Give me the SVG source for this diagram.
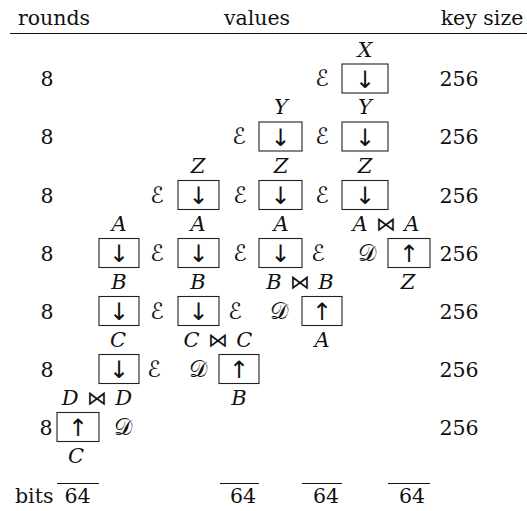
<svg xmlns="http://www.w3.org/2000/svg" width="527" height="511" viewBox="0 0 527 511">
<style>
text{font-family:'DejaVu Serif','Liberation Serif',serif;font-size:20.5px;fill:#111;}
.m{text-anchor:middle;}
.it{font-style:italic;font-size:21px;}
.cal{font-family:'DejaVu Sans',sans-serif;font-style:normal;font-size:22.5px;}
.arr{font-family:'DejaVu Sans',sans-serif;font-size:24px;text-anchor:middle;fill:#111;}
.bt{font-family:'DejaVu Sans',sans-serif;font-style:normal;font-size:20px;}
.box{fill:none;stroke:#222;stroke-width:1.1;}
.rule{stroke:#111;stroke-width:1.1;}
</style>
<g id="header">
<text class="m" x="54" y="25">rounds</text>
<text class="m" x="257" y="25">values</text>
<text class="m" x="482" y="25">key size</text>
<line class="rule" x1="10" y1="33.5" x2="527" y2="33.5"/>
</g>
<g id="rounds">
<text class="m" x="47" y="86">8</text>
<text class="m" x="47" y="144">8</text>
<text class="m" x="47" y="203">8</text>
<text class="m" x="47" y="261">8</text>
<text class="m" x="47" y="319">8</text>
<text class="m" x="47" y="377">8</text>
<text class="m" x="46" y="435">8</text>
</g>
<g id="keysize">
<text class="m" x="459" y="86">256</text>
<text class="m" x="459" y="144">256</text>
<text class="m" x="459" y="203">256</text>
<text class="m" x="459" y="261">256</text>
<text class="m" x="459" y="319">256</text>
<text class="m" x="459" y="377">256</text>
<text class="m" x="459" y="435">256</text>
</g>
<g id="row1">
<text class="m it" x="365" y="57">X</text>
<text class="m cal" x="322" y="86">ℰ</text>
<rect class="box" x="342" y="64" width="46" height="29"/><text class="arr" x="365" y="87.5">↓︎</text>
</g>
<g id="row2">
<text class="m it" x="281" y="114">Y</text>
<text class="m it" x="365" y="114">Y</text>
<text class="m cal" x="239" y="144">ℰ</text>
<rect class="box" x="259" y="122" width="43" height="29"/><text class="arr" x="280.5" y="145.5">↓︎</text>
<text class="m cal" x="322" y="144">ℰ</text>
<rect class="box" x="342" y="122" width="46" height="29"/><text class="arr" x="365" y="145.5">↓︎</text>
</g>
<g id="row3">
<text class="m it" x="198" y="172.5">Z</text>
<text class="m it" x="281" y="172.5">Z</text>
<text class="m it" x="365" y="172.5">Z</text>
<text class="m cal" x="157" y="203">ℰ</text>
<rect class="box" x="178" y="180.5" width="41" height="29"/><text class="arr" x="198.5" y="204">↓︎</text>
<text class="m cal" x="240" y="203">ℰ</text>
<rect class="box" x="259" y="180.5" width="43" height="29"/><text class="arr" x="280.5" y="204">↓︎</text>
<text class="m cal" x="322" y="203">ℰ</text>
<rect class="box" x="342" y="180.5" width="46" height="29"/><text class="arr" x="365" y="204">↓︎</text>
</g>
<g id="row4">
<text class="m it" x="119" y="230.5">A</text>
<text class="m it" x="198" y="230.5">A</text>
<text class="m it" x="281" y="230.5">A</text>
<text class="m it" x="386" y="230.5" word-spacing="2">A<tspan class="bt"> ⋈ </tspan>A</text>
<rect class="box" x="99" y="238.5" width="40" height="29"/><text class="arr" x="119" y="262">↓︎</text>
<text class="m cal" x="157" y="261">ℰ</text>
<rect class="box" x="178" y="238.5" width="41" height="29"/><text class="arr" x="198.5" y="262">↓︎</text>
<text class="m cal" x="240" y="261">ℰ</text>
<rect class="box" x="259" y="238.5" width="43" height="29"/><text class="arr" x="280.5" y="262">↓︎</text>
<text class="m cal" x="318" y="261">ℰ</text>
<text class="m cal" x="367" y="261">𝒟</text>
<rect class="box" x="388" y="238.5" width="42" height="29"/><text class="arr" x="409" y="262">↑︎</text>
</g>
<g id="row5">
<text class="m it" x="119" y="288.5">B</text>
<text class="m it" x="198" y="288.5">B</text>
<text class="m it" x="300" y="288.5" word-spacing="2">B<tspan class="bt"> ⋈ </tspan>B</text>
<text class="m it" x="408" y="288.5">Z</text>
<rect class="box" x="99" y="296.5" width="40" height="29"/><text class="arr" x="119" y="320">↓︎</text>
<text class="m cal" x="157" y="319">ℰ</text>
<rect class="box" x="178" y="296.5" width="41" height="29"/><text class="arr" x="198.5" y="320">↓︎</text>
<text class="m cal" x="235" y="319">ℰ</text>
<text class="m cal" x="279" y="319">𝒟</text>
<rect class="box" x="302" y="296.5" width="40" height="29"/><text class="arr" x="322" y="320">↑︎</text>
</g>
<g id="row6">
<text class="m it" x="118" y="346.5">C</text>
<text class="m it" x="218" y="346.5" word-spacing="2">C<tspan class="bt"> ⋈ </tspan>C</text>
<text class="m it" x="322" y="346.5">A</text>
<rect class="box" x="99" y="354.5" width="40" height="29"/><text class="arr" x="119" y="378">↓︎</text>
<text class="m cal" x="154" y="377">ℰ</text>
<text class="m cal" x="198" y="377">𝒟</text>
<rect class="box" x="219" y="354.5" width="40" height="29"/><text class="arr" x="239" y="378">↑︎</text>
</g>
<g id="row7">
<text class="m it" x="97" y="404.5" word-spacing="2">D<tspan class="bt"> ⋈ </tspan>D</text>
<text class="m it" x="239" y="404.5">B</text>
<rect class="box" x="57" y="412.5" width="42" height="29"/><text class="arr" x="78" y="436">↑︎</text>
<text class="m cal" x="123" y="435">𝒟</text>
<text class="m it" x="76" y="463">C</text>
</g>
<g id="bits">
<text x="15" y="503">bits</text>
<line class="rule" x1="57" y1="483.5" x2="99" y2="483.5"/>
<line class="rule" x1="220" y1="483.5" x2="259" y2="483.5"/>
<line class="rule" x1="302" y1="483.5" x2="342" y2="483.5"/>
<line class="rule" x1="388" y1="483.5" x2="430" y2="483.5"/>
<text class="m" x="77.5" y="503">64</text>
<text class="m" x="243" y="503">64</text>
<text class="m" x="326" y="503">64</text>
<text class="m" x="412" y="503">64</text>
</g>
</svg>
